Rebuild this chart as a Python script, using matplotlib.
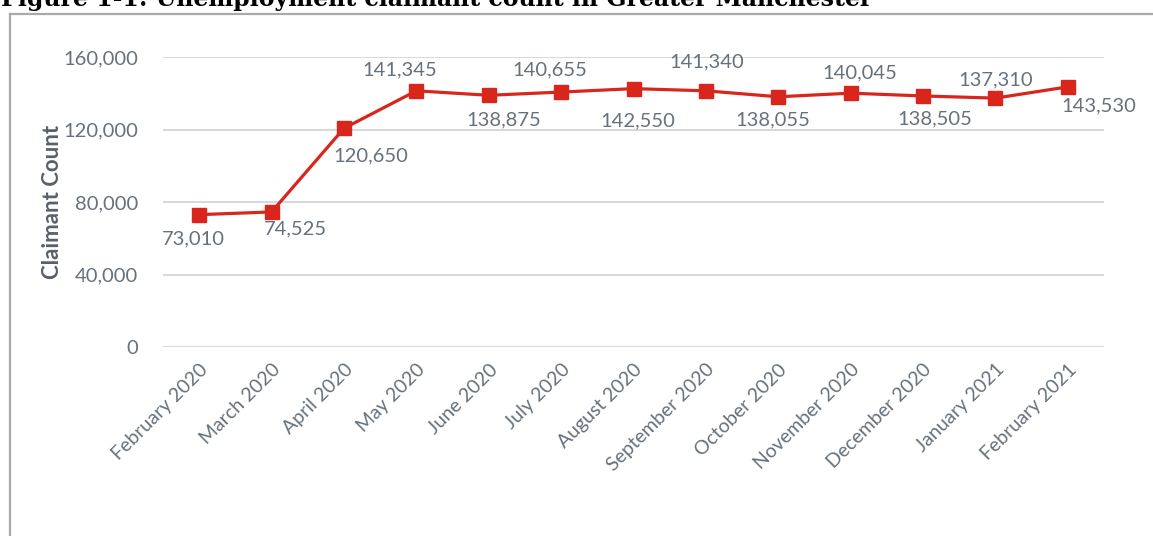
import matplotlib
matplotlib.use("Agg")
import matplotlib.pyplot as plt
from matplotlib.lines import Line2D

months = ["February 2020", "March 2020", "April 2020", "May 2020", "June 2020",
          "July 2020", "August 2020", "September 2020", "October 2020",
          "November 2020", "December 2020", "January 2021", "February 2021"]
claimants = [73010, 74525, 120650, 141345, 138875, 140655, 142550,
             141340, 138055, 140045, 138505, 137310, 143530]
yticks = [0, 40000, 80000, 120000, 160000]
title = "Figure 1-1: Unemployment claimant count in Greater Manchester"
ylabel = "Claimant Count"

# label offsets in pixels (dx, dy)
offsets = [(-6, -24), (24, -17), (27, -28), (-17, 21), (15, -25), (-11, 22),
           (4, -32), (1, 29), (-5, -23), (9, 20), (12, -23), (0, 18), (31, -19)]

W, H = 1153, 536
fig = plt.figure(figsize=(W / 100, H / 100), dpi=100)
plt.rcParams['font.family'] = ['Lato', 'DejaVu Sans']

ax = fig.add_axes([163 / W, 189 / H, (1104 - 163) / W, (479 - 189) / H])
text_col = "#66717b"
red = "#d9261c"

x = list(range(len(months)))
ax.plot(x, claimants, color=red, lw=2.3, marker='s', ms=9.5, zorder=3)
ax.set_xlim(-0.5, len(months) - 0.5)
ax.set_ylim(0, 160000)
ax.set_yticks(yticks)
ax.set_yticklabels([f"{v:,}" for v in yticks], fontsize=14.5, color=text_col)
ax.set_xticks(x)
ax.set_xticklabels(months, rotation=45, ha='right', rotation_mode='anchor',
                   fontsize=14, color=text_col)
ax.tick_params(axis='both', length=0)
ax.tick_params(axis='y', pad=18)
ax.tick_params(axis='x', pad=10)
ax.grid(axis='y', color="#d3d6d9", lw=1.3)
ax.set_axisbelow(True)
for s in ax.spines.values():
    s.set_visible(False)

for xi, v, (dx, dy) in zip(x, claimants, offsets):
    ax.annotate(f"{v:,}", (xi, v), xytext=(dx * 0.72, dy * 0.72),
                textcoords='offset points', ha='center', va='center',
                fontsize=14.5, color=text_col)

ax.set_ylabel(ylabel, fontsize=16, fontweight='bold', color="#59606a", labelpad=0)

fig.text(1 / W, 1 - 6 / H, title, fontsize=17, fontweight='bold',
         family='DejaVu Serif', va='baseline', ha='left', color='black')

fig.add_artist(Line2D([10 / W, 10 / W], [0, 1 - 14 / H], color="#aaaaaa", lw=1.6,
                      transform=fig.transFigure))
fig.add_artist(Line2D([10 / W, 1], [1 - 14 / H, 1 - 14 / H], color="#aaaaaa", lw=1.6,
                      transform=fig.transFigure))

fig.savefig("out.png", dpi=100)
